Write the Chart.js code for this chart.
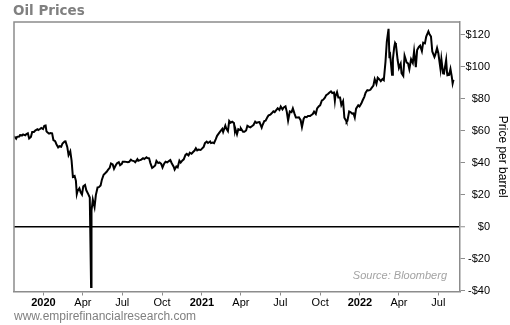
<!DOCTYPE html>
<html>
<head>
<meta charset="utf-8">
<script src="https://cdn.jsdelivr.net/npm/chart.js@4.4.0/dist/chart.umd.min.js"></script>
<style>
  html, body { margin: 0; padding: 0; background: #ffffff; }
  #wrap { width: 510px; height: 325px; position: relative; }
</style>
</head>
<body>
<div id="wrap"><canvas id="c" width="510" height="325"></canvas></div>
<script>
// WTI crude, front-month settle, USD per barrel
const dates = [
  '2019-10-25','2019-10-30','2019-11-01','2019-11-06','2019-11-08','2019-11-13','2019-11-15','2019-11-20','2019-11-22','2019-11-26',
  '2019-11-29','2019-12-03','2019-12-06','2019-12-10','2019-12-13','2019-12-18','2019-12-20','2019-12-24','2019-12-27','2019-12-31',
  '2020-01-03','2020-01-06','2020-01-08','2020-01-10','2020-01-14','2020-01-17','2020-01-21','2020-01-24','2020-01-28','2020-01-31',
  '2020-02-04','2020-02-07','2020-02-11','2020-02-14','2020-02-19','2020-02-21','2020-02-25','2020-02-28','2020-03-03','2020-03-06',
  '2020-03-09','2020-03-13','2020-03-16','2020-03-18','2020-03-20','2020-03-24','2020-03-27','2020-03-30','2020-04-02','2020-04-06',
  '2020-04-09','2020-04-14','2020-04-17','2020-04-20','2020-04-21','2020-04-24','2020-04-28','2020-05-01','2020-05-05','2020-05-08',
  '2020-05-12','2020-05-15','2020-05-19','2020-05-22','2020-05-26','2020-05-29','2020-06-02','2020-06-05','2020-06-09','2020-06-12',
  '2020-06-16','2020-06-19','2020-06-23','2020-06-26','2020-06-30','2020-07-02','2020-07-07','2020-07-10','2020-07-14','2020-07-17',
  '2020-07-21','2020-07-24','2020-07-28','2020-07-31','2020-08-05','2020-08-07','2020-08-11','2020-08-14','2020-08-18','2020-08-21',
  '2020-08-26','2020-08-28','2020-09-01','2020-09-04','2020-09-08','2020-09-11','2020-09-15','2020-09-18','2020-09-22','2020-09-25',
  '2020-09-29','2020-10-02','2020-10-06','2020-10-09','2020-10-13','2020-10-16','2020-10-20','2020-10-23','2020-10-28','2020-10-30',
  '2020-11-03','2020-11-06','2020-11-10','2020-11-13','2020-11-17','2020-11-20','2020-11-24','2020-11-27','2020-12-01','2020-12-04',
  '2020-12-08','2020-12-11','2020-12-15','2020-12-18','2020-12-21','2020-12-24','2020-12-29','2020-12-31','2021-01-05','2021-01-08',
  '2021-01-12','2021-01-15','2021-01-20','2021-01-22','2021-01-26','2021-01-29','2021-02-02','2021-02-05','2021-02-09','2021-02-12',
  '2021-02-17','2021-02-19','2021-02-24','2021-02-26','2021-03-02','2021-03-05','2021-03-08','2021-03-12','2021-03-16','2021-03-18',
  '2021-03-19','2021-03-23','2021-03-26','2021-03-30','2021-04-01','2021-04-06','2021-04-09','2021-04-13','2021-04-16','2021-04-20',
  '2021-04-23','2021-04-27','2021-04-30','2021-05-04','2021-05-07','2021-05-11','2021-05-14','2021-05-19','2021-05-21','2021-05-25',
  '2021-05-28','2021-06-02','2021-06-04','2021-06-08','2021-06-11','2021-06-15','2021-06-18','2021-06-22','2021-06-25','2021-06-29',
  '2021-07-02','2021-07-06','2021-07-09','2021-07-13','2021-07-16','2021-07-19','2021-07-23','2021-07-27','2021-07-30','2021-08-03',
  '2021-08-06','2021-08-10','2021-08-13','2021-08-17','2021-08-20','2021-08-24','2021-08-27','2021-08-31','2021-09-03','2021-09-08',
  '2021-09-10','2021-09-14','2021-09-17','2021-09-21','2021-09-24','2021-09-28','2021-10-01','2021-10-05','2021-10-08','2021-10-12',
  '2021-10-15','2021-10-19','2021-10-22','2021-10-26','2021-10-29','2021-11-02','2021-11-04','2021-11-05','2021-11-09','2021-11-12',
  '2021-11-16','2021-11-19','2021-11-23','2021-11-26','2021-11-30','2021-12-01','2021-12-03','2021-12-07','2021-12-10','2021-12-14',
  '2021-12-17','2021-12-20','2021-12-23','2021-12-28','2021-12-31','2022-01-04','2022-01-07','2022-01-11','2022-01-14','2022-01-18',
  '2022-01-21','2022-01-25','2022-01-28','2022-02-01','2022-02-04','2022-02-08','2022-02-11','2022-02-15','2022-02-18','2022-02-22',
  '2022-02-25','2022-03-01','2022-03-04','2022-03-08','2022-03-10','2022-03-11','2022-03-16','2022-03-18','2022-03-21','2022-03-23',
  '2022-03-25','2022-03-29','2022-04-01','2022-04-05','2022-04-07','2022-04-11','2022-04-14','2022-04-19','2022-04-22','2022-04-25',
  '2022-04-29','2022-05-03','2022-05-06','2022-05-10','2022-05-13','2022-05-17','2022-05-20','2022-05-24','2022-05-27','2022-05-31',
  '2022-06-03','2022-06-08','2022-06-10','2022-06-14','2022-06-17','2022-06-22','2022-06-24','2022-06-28','2022-07-01','2022-07-06',
  '2022-07-08','2022-07-12','2022-07-14','2022-07-15','2022-07-19','2022-07-21','2022-07-22','2022-07-26','2022-07-29','2022-08-01',
  '2022-08-03','2022-08-05'
];
const prices = [
  56.66, 55.06, 56.20, 56.35, 57.24, 57.12, 57.72, 57.11, 57.77, 58.41,
  55.17, 56.10, 59.20, 59.24, 60.07, 60.93, 60.44, 61.11, 61.72, 61.06,
  63.05, 63.27, 59.61, 59.04, 58.23, 58.54, 58.34, 54.19, 53.48, 51.56,
  49.61, 50.32, 49.94, 52.05, 53.29, 53.38, 49.90, 44.76, 47.18, 41.28,
  31.13, 31.73, 28.70, 20.37, 22.43, 24.01, 21.51, 20.09, 25.32, 26.08,
  22.76, 20.11, 18.27, -37.63, 10.01, 16.94, 12.34, 19.78, 24.56, 24.74,
  25.78, 29.43, 32.50, 33.25, 34.35, 35.49, 36.81, 39.55, 38.94, 36.26,
  38.38, 39.75, 40.37, 38.49, 39.27, 40.65, 40.62, 40.55, 40.29, 40.59,
  41.96, 41.29, 41.04, 40.27, 42.19, 41.22, 41.61, 42.01, 42.89, 42.34,
  43.39, 42.97, 42.76, 39.77, 36.76, 37.33, 38.28, 41.11, 39.80, 40.25,
  39.29, 37.05, 39.57, 40.60, 40.20, 40.88, 41.70, 39.85, 37.39, 35.79,
  37.66, 37.14, 41.36, 40.13, 41.43, 42.15, 44.91, 45.53, 44.55, 46.26,
  45.60, 46.57, 47.62, 49.10, 47.74, 48.23, 48.00, 48.52, 49.93, 52.24,
  53.21, 52.36, 53.31, 52.27, 52.61, 52.20, 54.76, 56.85, 58.36, 59.47,
  61.14, 59.24, 63.22, 61.50, 59.75, 66.09, 65.05, 65.61, 64.80, 60.00,
  61.42, 57.76, 60.97, 60.55, 61.45, 59.33, 59.32, 60.18, 63.13, 62.44,
  62.14, 62.94, 63.58, 65.69, 64.90, 65.28, 65.37, 61.96, 63.58, 66.07,
  66.32, 68.83, 69.62, 70.05, 70.91, 72.12, 71.64, 73.06, 74.05, 72.98,
  75.16, 73.37, 74.56, 75.25, 71.81, 66.42, 72.07, 71.65, 73.95, 70.56,
  68.28, 68.29, 68.44, 66.59, 62.32, 67.54, 68.74, 68.50, 69.29, 69.30,
  69.72, 70.46, 71.97, 70.56, 73.98, 75.29, 75.88, 78.93, 79.35, 80.64,
  82.28, 82.96, 83.76, 84.65, 83.57, 83.91, 78.81, 81.27, 84.15, 80.79,
  80.76, 76.10, 78.50, 68.15, 66.18, 65.57, 66.26, 72.05, 71.67, 70.73,
  70.86, 68.23, 73.79, 75.98, 75.21, 76.99, 78.90, 81.22, 83.82, 85.43,
  85.14, 85.60, 86.82, 88.20, 92.31, 89.36, 93.10, 92.07, 91.07, 92.35,
  91.59, 103.41, 115.68, 123.70, 106.02, 109.33, 95.04, 104.70, 112.12, 114.93,
  113.90, 104.24, 99.27, 101.96, 96.03, 94.29, 106.95, 102.56, 102.07, 98.54,
  104.69, 102.41, 109.77, 99.76, 110.49, 112.40, 113.23, 109.77, 115.07, 114.67,
  118.87, 122.11, 120.67, 118.93, 109.56, 106.19, 107.62, 111.76, 108.43, 98.53,
  104.79, 95.84, 95.78, 97.59, 104.22, 96.35, 94.70, 94.98, 98.62, 93.90,
  89.60, 91.90
];

// Axis ticks
const tickDates = ['2020-01-01','2020-04-01','2020-07-01','2020-10-01','2021-01-01','2021-04-01','2021-07-01','2021-10-01','2022-01-01','2022-04-01','2022-07-01'];
const tickLabels = ['2020','Apr','Jul','Oct','2021','Apr','Jul','Oct','2022','Apr','Jul'];
const yTicks = [-40, -20, 0, 20, 40, 60, 80, 100, 120];

const DAY = 86400000;
const origin = Date.parse('2020-01-01T00:00:00Z');
const dayOf = d => Math.round((Date.parse(d + 'T00:00:00Z') - origin) / DAY);

const points = dates.map((d, i) => ({ x: dayOf(d), y: prices[i] }));
const tickDays = tickDates.map(dayOf);

const AXIS_GREY = '#8c8c8c';
const LABEL_FONT = '"Liberation Sans", Arial, sans-serif';

const decor = {
  id: 'decor',
  afterDraw(chart) {
    const { ctx, chartArea: a } = chart;
    ctx.save();
    // left and top sides of the plot frame
    ctx.strokeStyle = AXIS_GREY;
    ctx.lineWidth = 1.5;
    ctx.beginPath();
    ctx.moveTo(a.left, a.bottom);
    ctx.lineTo(a.left, a.top);
    ctx.lineTo(a.right, a.top);
    ctx.stroke();

    ctx.textBaseline = 'alphabetic';
    ctx.textAlign = 'left';
    ctx.fillStyle = '#808080';
    ctx.font = 'bold 13.5px "DejaVu Sans"';
    ctx.fillText('Oil Prices', 13, 15);

    ctx.font = '12px "Liberation Sans"';
    ctx.fillText('www.empirefinancialresearch.com', 14, 319.5);

    ctx.fillStyle = '#a3a3a3';
    ctx.font = 'italic 11px "Liberation Sans"';
    ctx.textAlign = 'right';
    ctx.fillText('Source: Bloomberg', a.right - 13, a.bottom - 13);
    ctx.restore();
  }
};

new Chart(document.getElementById('c'), {
  type: 'line',
  data: {
    datasets: [{
      data: points,
      borderColor: '#000000',
      borderWidth: 2,
      pointRadius: 0,
      tension: 0,
      fill: false,
      yAxisID: 'y'
    }]
  },
  options: {
    responsive: false,
    animation: false,
    devicePixelRatio: 1,
    layout: { padding: { left: 14, top: 22, right: 0, bottom: 0 } },
    plugins: { legend: { display: false }, tooltip: { enabled: false } },
    scales: {
      x: {
        type: 'linear',
        min: -68,
        max: 962,
        afterBuildTicks: s => { s.ticks = tickDays.map(v => ({ value: v })); },
        afterFit: s => { s.height = 33.5; },
        border: { display: true, color: AXIS_GREY, width: 1.5 },
        grid: { drawOnChartArea: false, drawTicks: true, tickLength: 4, tickColor: AXIS_GREY, tickWidth: 1 },
        ticks: {
          autoSkip: false,
          maxRotation: 0,
          padding: 1,
          color: '#000000',
          font: c => ({ family: LABEL_FONT, size: 11, weight: /^\d{4}$/.test(tickLabels[c.index]) ? 'bold' : 'normal' }),
          callback: (v, i) => tickLabels[i]
        }
      },
      y: {
        type: 'linear',
        position: 'right',
        weight: 0,
        min: -40.5,
        max: 128,
        afterBuildTicks: s => { s.ticks = yTicks.map(v => ({ value: v })); },
        afterFit: s => { s.width = 30; },
        border: { display: true, color: AXIS_GREY, width: 1.5 },
        grid: {
          drawOnChartArea: true,
          drawTicks: true,
          tickLength: 5,
          tickColor: AXIS_GREY,
          tickWidth: 1,
          color: c => (c.tick && c.tick.value === 0) ? '#000000' : 'rgba(0,0,0,0)',
          lineWidth: c => (c.tick && c.tick.value === 0) ? 1.5 : 1
        },
        ticks: {
          crossAlign: 'far',
          padding: 3,
          color: '#000000',
          font: { family: LABEL_FONT, size: 11 },
          callback: v => (v < 0 ? '-$' : '$') + Math.abs(v)
        }
      },
      yTitle: {
        type: 'linear',
        position: 'right',
        weight: 1,
        min: -40.5,
        max: 128,
        afterFit: s => { s.width = 20; },
        border: { display: false },
        grid: { display: false },
        ticks: { display: false },
        title: {
          display: true,
          text: 'Price per barrel',
          color: '#000000',
          font: { family: LABEL_FONT, size: 12 },
          padding: { top: 0, bottom: 0 }
        }
      }
    }
  },
  plugins: [decor]
});
</script>
</body>
</html>
